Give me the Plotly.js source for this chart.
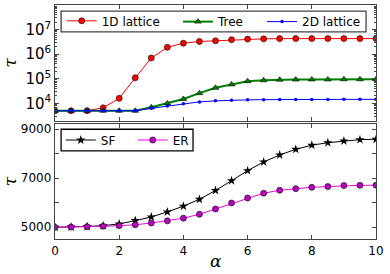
<!DOCTYPE html>
<html><head><meta charset="utf-8">
<script src="https://cdn.plot.ly/plotly-3.0.1.min.js"></script>
<style>html,body{margin:0;padding:0;background:#fff}#c{width:390px;height:274px}</style>
</head><body><div id="c"></div>
<script>
const alpha = [0,0.5,1,1.5,2,2.5,3,3.5,4,4.5,5,5.5,6,6.5,7,7.5,8,8.5,9,9.5,10];
const lattice1D = [5000,5000,5050,6600,16000,110000,700000,1900000,2800000,3300000,3500000,3900000,4100000,4200000,4300000,4300000,4300000,4300000,4300000,4300000,4300000];
const tree = [5000,5000,5000,5000,5000,5000,6900,10000,15000,26000,43000,59000,80000,87000,92000,93000,94000,94000,95000,95000,95000];
const lattice2D = [5000,5000,5000,5000,5000,5000,6300,7800,9600,11500,12700,13500,13900,14200,14400,14500,14500,14500,14600,14600,14600];
const sf = [5000,5010,5030,5065,5135,5270,5420,5625,5860,6140,6500,6900,7310,7665,7950,8180,8350,8450,8520,8575,8590];
const er = [5000,5005,5020,5040,5065,5100,5175,5260,5370,5530,5745,5990,6195,6390,6510,6575,6630,6660,6700,6710,6715];
const xTitle = 'α';
const yTitle = 'τ';

const traces = [
  {x:alpha, y:lattice1D, name:'1D lattice', xaxis:'x', yaxis:'y', mode:'lines+markers', legend:'legend',
   line:{color:'#ff0000', width:1}, marker:{symbol:'circle', size:6, color:'#ff0000', line:{color:'#000', width:0.6}}},
  {x:alpha, y:tree, name:'Tree', xaxis:'x', yaxis:'y', mode:'lines+markers', legend:'legend2',
   line:{color:'#008000', width:2}, marker:{symbol:'triangle-up', size:6, color:'#008000', line:{color:'#000', width:0.6}}},
  {x:alpha, y:lattice2D, name:'2D lattice', xaxis:'x', yaxis:'y', mode:'lines+markers', legend:'legend3',
   line:{color:'#0000ff', width:1}, marker:{symbol:'circle', size:3.5, color:'#0000ff'}},
  {x:alpha, y:sf, name:'SF', xaxis:'x2', yaxis:'y2', mode:'lines+markers', legend:'legend4',
   line:{color:'#000', width:1}, marker:{symbol:'star', size:7, color:'#000'}},
  {x:alpha, y:er, name:'ER', xaxis:'x2', yaxis:'y2', mode:'lines+markers', legend:'legend5',
   line:{color:'#ee00ee', width:1}, marker:{symbol:'circle', size:6, color:'#bf00bf', line:{color:'#000', width:0.6}}}
];

const frame = {showline:true, linecolor:'#444', linewidth:1.3, mirror:'ticks', ticks:'inside', ticklen:4, tickcolor:'#444', showgrid:false, zeroline:false};
const tf = {family:'DejaVu Sans', size:12, color:'#000'};
const lf = {family:'DejaVu Sans', size:12, color:'#000'};
const titleFont = {family:'DejaVu Serif', size:17, style:'italic', color:'#000'};
function leg(x, y){ return {orientation:'h', x:x, y:y, xanchor:'left', yanchor:'middle', borderwidth:0, bgcolor:'rgba(0,0,0,0)', font:lf}; }
const layout = {
  width:390, height:274,
  margin:{l:55, r:14, t:5, b:35},
  paper_bgcolor:'#fff', plot_bgcolor:'#fff',
  font:tf,
  xaxis:Object.assign({}, frame, {domain:[0,1], range:[0,10], dtick:2, showticklabels:false, anchor:'y'}),
  yaxis:Object.assign({}, frame, {domain:[0.506,1], type:'log', range:[3.3,8], dtick:1, exponentformat:'power', tickfont:tf,
    minor:{ticks:'inside', ticklen:2, tickcolor:'#444', dtick:'D1'},
    title:{text:yTitle, font:titleFont, standoff:11}, anchor:'x'}),
  xaxis2:Object.assign({}, frame, {domain:[0,1], range:[0,10], dtick:2, tickfont:tf, anchor:'y2'}),
  yaxis2:Object.assign({}, frame, {domain:[0,0.49], range:[4520,9200], tickvals:[5000,7000,9000], tickformat:'d', tickfont:tf,
    minor:{ticks:'inside', ticklen:4, tickcolor:'#444', tickvals:[6000,8000]},
    title:{text:yTitle, font:titleFont, standoff:22}, anchor:'x2'}),
  annotations:[
    {text:xTitle, xref:'paper', yref:'paper', x:0.5, y:-0.094, xanchor:'center', yanchor:'middle', showarrow:false, font:titleFont}
  ],
  legend:leg(0.019, 0.929),
  legend2:leg(0.383, 0.929),
  legend3:leg(0.645, 0.929),
  legend4:leg(0.018, 0.423),
  legend5:leg(0.242, 0.423),
  shapes:[
    {type:'rect', xref:'paper', yref:'paper', x0:0.019, x1:0.969, y0:0.885, y1:0.974, line:{color:'#444', width:1.3}, layer:'below', fillcolor:'#fff'},
    {type:'rect', xref:'paper', yref:'paper', x0:0.019, x1:0.430, y0:0.377, y1:0.469, line:{color:'#000', width:1.3}, layer:'below', fillcolor:'#fff'}
  ],
  showlegend:true
};
// target pixel position (left edge, vertical centre) of each legend label
const legendTargets = {legend:[101.7,21.5], legend2:[217.7,21.5], legend3:[302.3,21.5], legend4:[100.7,140], legend5:[172.7,140]};
Plotly.newPlot('c', traces, layout, {staticPlot:true, displayModeBar:false}).then(function(gd){
  const base = gd.getBoundingClientRect();
  const upd = {};
  const pw = 390 - 55 - 14, ph = 274 - 5 - 35;
  Object.keys(legendTargets).forEach(function(k){
    const g = gd.querySelector('g.' + k);
    if (!g) return;
    const t = g.querySelector('.legendtext');
    if (!t) return;
    const r = t.getBoundingClientRect();
    const dx = legendTargets[k][0] - (r.left - base.left);
    const dy = legendTargets[k][1] - ((r.top + r.bottom) / 2 - base.top);
    upd[k + '.x'] = layout[k].x + dx / pw;
    upd[k + '.y'] = layout[k].y - dy / ph;
  });
  return Plotly.relayout(gd, upd);
});
</script></body></html>
